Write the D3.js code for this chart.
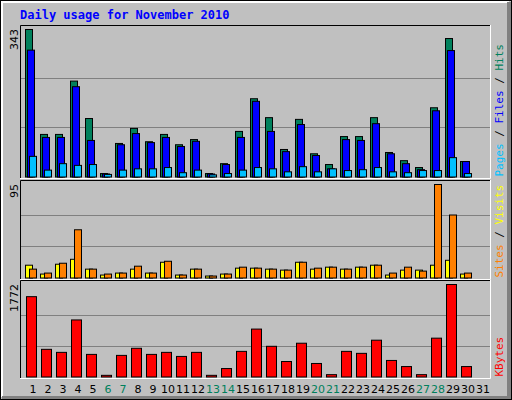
<!DOCTYPE html>
<html><head><meta charset="utf-8">
<script src="https://cdn.jsdelivr.net/npm/d3@7"></script>
<style>body{margin:0;background:#fff}</style>
</head><body>
<div id="chart"></div>
<script>
const days = d3.range(1, 32);
const weekend = [6, 7, 13, 14, 20, 21, 27, 28];
const hits   = [343,99,99,223,136,8,78,113,82,99,75,87,8,31,106,182,138,64,134,54,29,94,94,138,57,38,22,161,322,36,0];
const files  = [295,92,92,210,85,7,75,101,80,92,71,83,7,29,92,176,106,59,122,50,19,87,85,124,54,31,17,154,294,36,0];
const pages  = [48,16,31,27,29,6,16,19,19,22,10,16,5,8,16,22,19,12,24,12,19,15,17,22,12,10,15,15,45,8,0];
const sites  = [13,4,14,19,9,3,5,9,5,16,3,9,2,4,10,10,9,8,16,9,11,9,11,13,3,8,8,13,18,4,0];
const visits = [9,5,15,49,9,4,5,12,5,17,3,9,2,4,11,10,9,8,16,10,11,9,11,13,5,11,7,95,64,5,0];
const kbytes = [1539,530,472,1093,433,32,414,550,433,472,394,472,32,162,491,918,588,297,647,259,45,491,453,705,317,200,45,744,1772,200,0];

const W = 512, H = 400;
const svg = d3.select("#chart").append("svg").attr("width", W).attr("height", H)
    .style("font-family", "DejaVu Sans");

// frame
svg.append("rect").attr("width", W).attr("height", H).attr("fill", "#C0C0C0");
svg.append("rect").attr("x", 0.5).attr("y", 0.5).attr("width", W - 1).attr("height", H - 1)
    .attr("fill", "none").attr("stroke", "#000");
svg.append("path").attr("d", "M2,397V2H509").attr("fill", "none").attr("stroke", "#fff").attr("stroke-width", 2);
svg.append("rect").attr("x", 507).attr("y", 2).attr("width", 4).attr("height", 397).attr("fill", "#808080");
svg.append("rect").attr("x", 2).attr("y", 396).attr("width", 509).attr("height", 3).attr("fill", "#808080");

svg.append("text").attr("x", 20).attr("y", 19).text("Daily usage for November 2010")
    .attr("fill", "#0000FF").attr("font-family", "DejaVu Sans Mono").attr("font-weight", "bold")
    .attr("font-size", 12);

const x = d3.scaleLinear().domain([1, 31]).range([25, 475]);

function panel(y0, y1, max, series, rlabels) {
    svg.append("path").attr("d", `M20.5,${y1}V${y0 + 0.5}H491`).attr("fill", "none").attr("stroke", "#000");
    svg.append("path").attr("d", `M20,${y1 + 0.5}H490.5V${y0}`).attr("fill", "none").attr("stroke", "#fff");
    const base = y1 - 1.5, top = y0 + 4;
    const y = d3.scaleLinear().domain([0, max]).range([base, top]);
    [1, 2].forEach(k => {
        svg.append("line").attr("x1", 21).attr("x2", 490).attr("y1", Math.round(y(max * k / 3)) + 0.5)
            .attr("y2", Math.round(y(max * k / 3)) + 0.5).attr("stroke", "#808080");
    });
    series.forEach(s => {
        svg.append("g").selectAll("rect").data(s.values.map((v, i) => ({v, d: days[i]})).filter(o => o.v > 0))
            .join("rect")
            .attr("x", o => x(o.d) + s.off + 0.5)
            .attr("y", o => Math.min(y(o.v), base - 1) + 0.5)
            .attr("width", s.w)
            .attr("height", o => Math.max(base - y(o.v), 1))
            .attr("fill", s.color).attr("stroke", "#000");
    });
    svg.append("text").attr("transform", `translate(18,${top}) rotate(-90)`)
        .attr("text-anchor", "end").attr("font-size", 11).text(max);
    const t = svg.append("text").attr("transform", `translate(503,${base}) rotate(-90)`)
        .attr("font-size", 11).attr("font-family", "DejaVu Sans Mono");
    rlabels.forEach(r => t.append("tspan").attr("fill", r[1]).text(r[0]));
}

panel(25, 178, 343, [
    {values: hits, color: "#00805C", off: 0, w: 7},
    {values: files, color: "#0000FF", off: 2, w: 7},
    {values: pages, color: "#00C0FF", off: 4, w: 7}
], [["Pages", "#00C0FF"], [" / ", "#000"], ["Files", "#0000FF"], [" / ", "#000"], ["Hits", "#00805C"]]);

panel(180, 279, 95, [
    {values: sites, color: "#FFFF00", off: 0, w: 7},
    {values: visits, color: "#FF8000", off: 4, w: 7}
], [["Sites", "#FF8000"], [" / ", "#000"], ["Visits", "#FFFF00"]]);

panel(280, 378, 1772, [
    {values: kbytes, color: "#FF0000", off: 1, w: 10}
], [["KBytes", "#FF0000"]]);

svg.append("g").selectAll("text").data(days).join("text")
    .attr("x", d => x(d) + 8).attr("y", 393).attr("text-anchor", "middle").attr("font-size", 11)
    .attr("fill", d => weekend.includes(d) ? "#00805C" : "#000").text(d => d);
</script>
</body></html>
